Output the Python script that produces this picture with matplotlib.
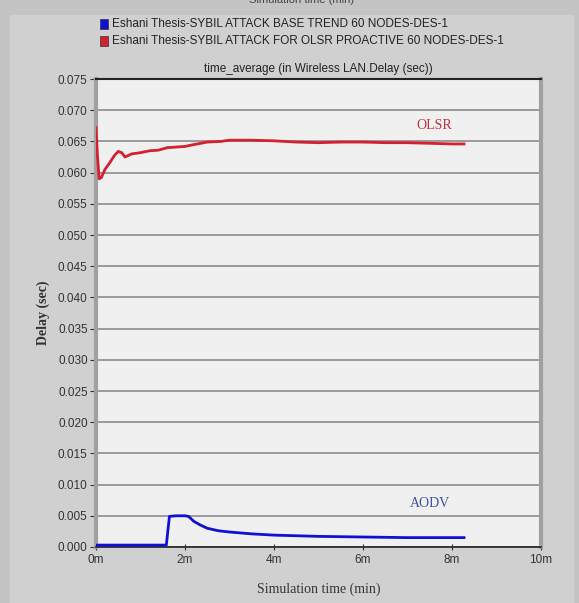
import matplotlib.pyplot as plt
from matplotlib.patches import Rectangle

# simulation time (min) and delay (sec)
olsr_t = [0.0, 0.03, 0.07, 0.12, 0.2, 0.3, 0.42, 0.5, 0.58, 0.65, 0.8, 1.0, 1.2, 1.4, 1.6, 1.8,
          2.0, 2.2, 2.5, 2.8, 3.0, 3.5, 4.0, 4.5, 5.0, 5.5, 6.0, 6.5, 7.0, 7.5, 8.0, 8.27]
olsr_d = [0.0672, 0.0630, 0.0590, 0.0592, 0.0605, 0.0615, 0.0628, 0.0634, 0.0632, 0.0625, 0.0630,
          0.0632, 0.0635, 0.0636, 0.0640, 0.0641, 0.0642, 0.0645, 0.0649, 0.0650, 0.0652, 0.0652,
          0.0651, 0.0649, 0.0648, 0.0649, 0.0649, 0.0648, 0.0648, 0.0647, 0.0646, 0.0646]
aodv_t = [0.0, 1.58, 1.65, 1.8, 2.0, 2.08, 2.2, 2.35, 2.5, 2.75, 3.0, 3.5, 4.0, 4.5, 5.0, 6.0, 7.0, 8.27]
aodv_d = [0.0003, 0.0003, 0.0049, 0.0050, 0.0050, 0.0049, 0.0041, 0.0035, 0.0030, 0.0026, 0.0024,
          0.0021, 0.0019, 0.0018, 0.0017, 0.0016, 0.0015, 0.0015]

yticks = [i * 0.005 for i in range(16)]
xticks = [0, 2, 4, 6, 8, 10]
xlabels = ["0m", "2m", "4m", "6m", "8m", "10m"]

legend_names = ["Eshani Thesis-SYBIL ATTACK BASE TREND 60 NODES-DES-1",
                "Eshani Thesis-SYBIL ATTACK FOR OLSR PROACTIVE 60 NODES-DES-1"]

sans = "Liberation Sans"
serif = "Liberation Serif"

fig = plt.figure(figsize=(5.79, 6.03), dpi=100, facecolor="#c4c4c4")
fig.patches.append(Rectangle((0.017, 0.0), 0.975, 0.975, transform=fig.transFigure,
                             facecolor="#d0d0d0", edgecolor="none", zorder=-10))

ax = fig.add_axes([0.1658, 0.0929, 0.7686, 0.776])
ax.set_facecolor("#f0f0f0")
ax.set_xlim(0, 10)
ax.set_ylim(0, 0.075)
ax.set_yticks(yticks)
ax.set_yticklabels(["%.3f" % v for v in yticks], fontsize=8.5, family=sans, color="#333333")
ax.set_xticks(xticks)
ax.set_xticklabels(xlabels, fontsize=8.5, family=sans, color="#333333")
ax.tick_params(axis="y", length=4, color="#333333", pad=2)
ax.tick_params(axis="x", length=4, color="#333333", direction="inout", pad=3)
ax.grid(axis="y", color="#8c8c8c", linewidth=1.2)
ax.set_axisbelow(True)
ax.spines["left"].set_color("#a0a0a0")
ax.spines["left"].set_linewidth(3)
ax.spines["right"].set_color("#a0a0a0")
ax.spines["right"].set_linewidth(3)
ax.spines["top"].set_color("#222222")
ax.spines["top"].set_linewidth(1.5)
ax.spines["bottom"].set_color("#222222")
ax.spines["bottom"].set_linewidth(1.2)

ax.plot(olsr_t, olsr_d, color="#d42030", linewidth=2.0, zorder=3)
ax.plot(aodv_t, aodv_d, color="#1010d0", linewidth=2.0, zorder=3)

ax.text(7.6, 0.0675, "OLSR", color="#c03040", fontsize=10, family=serif, ha="center", va="center")
ax.text(7.5, 0.0069, "AODV", color="#4050a0", fontsize=10, family=serif, ha="center", va="center")

ax.set_title("time_average (in Wireless LAN.Delay (sec))", fontsize=8.5, family=sans,
             color="#222222", pad=5)
ax.set_ylabel("Delay (sec)", fontsize=10, family=serif, fontweight="bold", color="#333333", labelpad=6)
ax.set_xlabel("Simulation time (min)", fontsize=10, family=serif, color="#333333", labelpad=12)

# legend squares and labels
leg_colors = ["#1010d0", "#d42030"]
leg_y = [1 - 24 / 603, 1 - 41 / 603]
for c, y, name in zip(leg_colors, leg_y, legend_names):
    fig.patches.append(Rectangle((100 / 579, y - 5 / 603), 8 / 579, 10 / 603,
                                 transform=fig.transFigure, facecolor=c, edgecolor="#333333",
                                 linewidth=0.5))
    fig.text(112 / 579, y, name, fontsize=8.5, family=sans, color="#222222", va="center", ha="left")

fig.text(0.52, 1.0, "Simulation time (min)", fontsize=8, family=sans, color="#444444",
         ha="center", va="center")

fig.savefig("out.png", dpi=100, facecolor=fig.get_facecolor())
